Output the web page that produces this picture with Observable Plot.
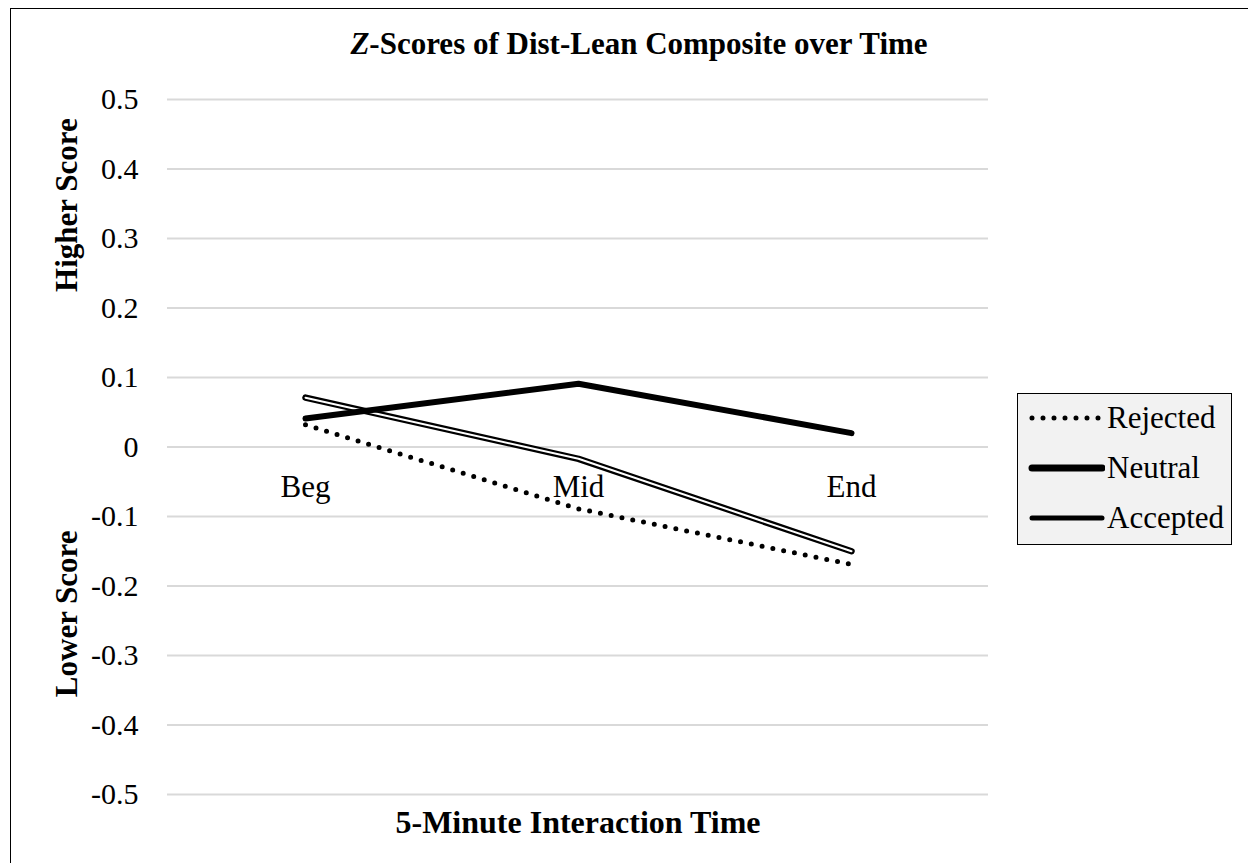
<!DOCTYPE html>
<html>
<head>
<meta charset="utf-8">
<script src="https://cdn.jsdelivr.net/npm/d3@7"></script>
<script src="https://cdn.jsdelivr.net/npm/@observablehq/plot@0.6"></script>
<style>
  html, body { margin: 0; padding: 0; background: #fff; }
  #wrap { position: relative; width: 1248px; height: 863px; overflow: hidden; font-family: "Liberation Serif", "Times New Roman", serif; }
  #frame { position: absolute; left: 10px; top: 8px; width: 1300px; height: 900px; border: 1.5px solid #000; box-sizing: border-box; }
  #chart { position: absolute; left: 0; top: 0; }
  #chart svg { font-family: "Liberation Serif", "Times New Roman", serif !important; }
  .title { position: absolute; left: 0; width: 1278px; top: 26px; text-align: center; font-weight: bold; font-size: 31px; line-height: 36px; }
  #legend { position: absolute; left: 1017px; top: 393px; width: 215px; height: 152px; box-sizing: border-box; border: 1.5px solid #000; background: #f2f2f2; }
  #legend .item { position: absolute; left: 9px; height: 34px; display: flex; align-items: center; font-size: 31px; white-space: nowrap; }
  #legend svg { display: block; margin-right: 2px; }
</style>
</head>
<body>
<div id="wrap">
  <div id="frame"></div>
  <div id="chart"></div>
  <div id="legend"></div>
</div>
<script>
const categories = ["Beg", "Mid", "End"];
const seriesNames = ["Rejected", "Neutral", "Accepted"];
const rejected = [0.032, -0.089, -0.169];
const neutral = [0.041, 0.091, 0.020];
const accepted = [0.071, -0.017, -0.150];
const yTicks = [0.5, 0.4, 0.3, 0.2, 0.1, 0, -0.1, -0.2, -0.3, -0.4, -0.5];
const titleText = "Scores of Dist-Lean Composite over Time";
const xTitle = "5-Minute Interaction Time";
const yTitleHigh = "Higher Score";
const yTitleLow = "Lower Score";

const toRows = (name, vals) => categories.map((c, i) => ({series: name, cat: c, value: vals[i]}));
const rowsRejected = toRows("Rejected", rejected);
const rowsNeutral = toRows("Neutral", neutral);
const rowsAccepted = toRows("Accepted", accepted);

const fmt = d => d === 0 ? "0" : d.toFixed(1);
const FF = '"Liberation Serif", "Times New Roman", serif';

const W = 1248, H = 863;
const chart = Plot.plot({
  width: W,
  height: H,
  marginLeft: 167,
  marginRight: 260,
  marginTop: 99,
  marginBottom: 69,
  style: {fontFamily: FF, background: "transparent", overflow: "visible"},
  x: {type: "point", domain: categories, padding: 0.5, axis: null},
  y: {domain: [-0.5, 0.5], axis: null},
  marks: [
    Plot.ruleY(yTicks, {stroke: "#d9d9d9", strokeWidth: 2}),
    Plot.axisY({ticks: yTicks, tickFormat: fmt, tickSize: 0, tickPadding: 29, fontSize: 30, fill: "#000", label: null, fontFamily: FF}),
    Plot.text(categories, {x: d => d, y: () => 0, dy: 40, text: d => d, fontSize: 31, fill: "#000", fontFamily: FF}),
    // Rejected: dotted
    Plot.line(rowsRejected, {x: "cat", y: "value", stroke: "#000", strokeWidth: 5, strokeDasharray: "0 11", strokeLinecap: "round"}),
    // Accepted: double line
    Plot.line(rowsAccepted, {x: "cat", y: "value", stroke: "#000", strokeWidth: 6.5, strokeLinecap: "round"}),
    Plot.line(rowsAccepted, {x: "cat", y: "value", stroke: "#fff", strokeWidth: 2, strokeLinecap: "round"}),
    // Neutral: thick
    Plot.line(rowsNeutral, {x: "cat", y: "value", stroke: "#000", strokeWidth: 6, strokeLinecap: "round"}),
    // axis titles
    Plot.text([xTitle], {frameAnchor: "bottom", dy: 38, text: d => d, fontSize: 32, fontWeight: "bold", fill: "#000", fontFamily: FF}),
    Plot.text([yTitleHigh], {x: () => "Beg", y: () => 0.348, dx: -238, rotate: -90, text: d => d, fontSize: 31, fontWeight: "bold", fill: "#000", fontFamily: FF}),
    Plot.text([yTitleLow], {x: () => "Beg", y: () => -0.24, dx: -238, rotate: -90, text: d => d, fontSize: 31, fontWeight: "bold", fill: "#000", fontFamily: FF})
  ]
});
document.getElementById("chart").appendChild(chart);

// Title (HTML, with italic Z)
const t = document.createElement("div");
t.className = "title";
t.innerHTML = "<i>Z</i>-" + titleText;
document.getElementById("wrap").appendChild(t);

// Legend
const legend = document.getElementById("legend");
const styles = {
  Rejected: {w: 5, dash: "0 11"},
  Neutral: {w: 7, dash: null},
  Accepted: {w: 5, dash: null}
};
seriesNames.forEach((name, i) => {
  const item = document.createElement("div");
  item.className = "item";
  item.style.top = (7 + i * 50) + "px";
  const s = styles[name];
  item.innerHTML = `<svg width="78" height="20"><line x1="5" y1="10" x2="75" y2="10" stroke="#000" stroke-width="${s.w}" stroke-linecap="round" ${s.dash ? `stroke-dasharray="${s.dash}"` : ""}/></svg><span>${name}</span>`;
  legend.appendChild(item);
});
</script>
</body>
</html>
